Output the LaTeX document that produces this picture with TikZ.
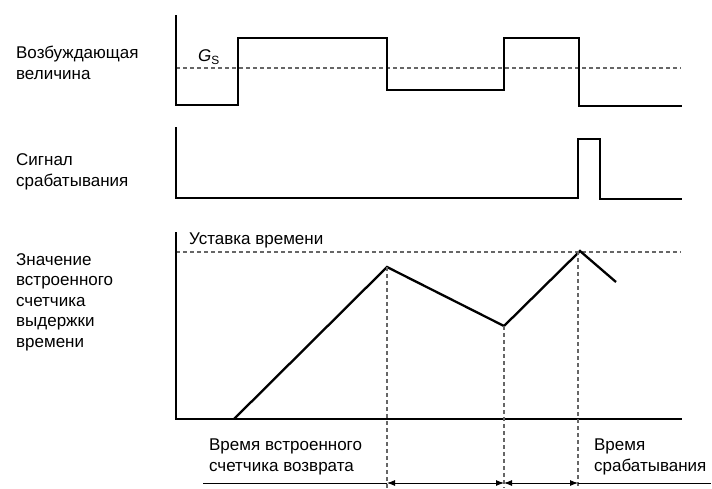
\documentclass[tikz,border=0pt]{standalone}
\usepackage{fontspec}
\setmainfont{Liberation Sans}
\usetikzlibrary{arrows.meta}

\begin{document}
\begin{tikzpicture}[x = 1pt, y = -1pt, line width = 2.3pt,
  thr/.style = {color = black!60, line width = 1.6pt, dash pattern = on 4pt off 3pt},
  lbl/.style = {align = left, inner sep = 0pt, font = \fontsize{17}{20.5}\selectfont},
  dim/.style = {line width = 0.9pt, {Latex[length = 8pt, width = 6pt]}-{Latex[length = 8pt, width = 6pt]}}]
\useasboundingbox (0, 0) rectangle (712, 488);
%\draw[very thin, color = gray](0, 0) grid[step = 50] (712, 488);
% excitation
\node (excite) at (15, 63) [right, lbl] {Возбуждающая\\величина};
\draw [thr] (176, 68) -- (681, 68);
\draw (176, 15) -- (176, 105) -- (238, 105) -- (238, 38) -- (387, 38)
  -- (387, 90) -- (504, 90) -- (504, 38) -- (579, 38) -- (579, 106) -- (682, 106);
\node (gs) at (209, 57) [lbl] {\textit{G}\textsubscript{S}};
% operate signal
\node (opsig) at (15, 172) [right, lbl] {Сигнал\\срабатывания};
\draw (176, 127) -- (176, 198) -- (578, 198) -- (578, 139) -- (600, 139)
  -- (600, 199) -- (682, 199);
% timer
\node (timer) at (15, 302) [right, lbl] {Значение\\встроенного\\счетчика\\выдержки\\времени};
\draw [thr] (176, 252) -- (681, 252);
\node (setting) at (188, 240) [right, lbl] {Уставка времени};
\coordinate (start) at (234, 419);
\coordinate (peak) at (387, 267);
\coordinate (valley) at (504, 326);
\coordinate (trip) at (580, 251);
\coordinate (stop) at (616, 282);
\draw (176, 232) -- (176, 419) -- (682, 419);
\draw (start) -- (peak) -- (valley) -- (trip) -- (stop);
\coordinate (peakb) at (387, 488);
\coordinate (valleyb) at (504, 488);
\coordinate (tripb) at (578, 488);
\draw [thr] (peak) -- (peakb);
\draw [thr] (valley) -- (valleyb);
\draw [thr] (578, 251) -- (tripb);
% times
\coordinate (left) at (203, 483);
\coordinate (right) at (711, 483);
\coordinate (t1) at (387, 483);
\coordinate (t2) at (504, 483);
\coordinate (t3) at (578, 483);
\draw [line width = 0.9pt] (left) -- (t1);
\draw [dim] (t1) -- (t2);
\draw [dim] (t2) -- (t3);
\draw [line width = 0.9pt] (t3) -- (right);
\node (reset) at (208, 457) [right, lbl] {Время встроенного\\счетчика возврата};
\node (optime) at (593, 457) [right, lbl] {Время\\срабатывания};
\end{tikzpicture}
\end{document}
